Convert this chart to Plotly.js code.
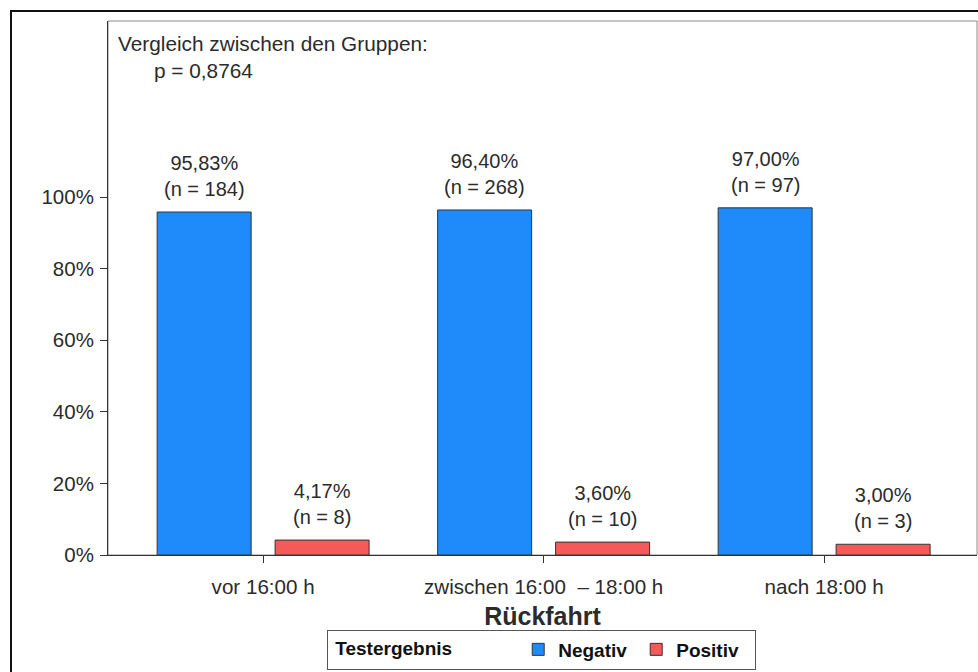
<!DOCTYPE html>
<html>
<head>
<meta charset="utf-8">
<script src="https://cdn.plot.ly/plotly-3.0.1.min.js"></script>
<style>
  html, body { margin: 0; padding: 0; background: #fff; }
  #wrap { position: relative; width: 978px; height: 672px; overflow: hidden; }
  #chart { position: absolute; left: 0; top: 0; width: 978px; height: 672px; }
  #frame { position: absolute; left: 10px; top: 10px; width: 1000px; height: 700px;
           border-left: 2px solid #111; border-top: 2px solid #111; pointer-events: none; }
</style>
</head>
<body>
<div id="wrap">
  <div id="chart"></div>
  <div id="frame"></div>
</div>
<script>
// ---- data ----
const categories = ['vor 16:00 h', 'zwischen 16:00  – 18:00 h', 'nach 18:00 h'];
const negativPct = [95.83, 96.40, 97.00];
const positivPct = [4.17, 3.60, 3.00];
const negativN = [184, 268, 97];
const positivN = [8, 10, 3];
const negativLabels = ['95,83%', '96,40%', '97,00%'];
const positivLabels = ['4,17%', '3,60%', '3,00%'];
const yTickVals = [0, 20, 40, 60, 80, 100];
const yTickText = ['0%', '20%', '40%', '60%', '80%', '100%'];
const pValueText = 'p = 0,8764';
const noteText = 'Vergleich zwischen den Gruppen:';

// ---- style ----
const FONT = 'Arial, "Liberation Sans", sans-serif';
const TXT = '#2b2b2b';
const BLUE = '#1f8bfb';
const RED = '#f45a5a';
const SLOT = 59; // half group slot offset in px for labels

const traces = [
  { type: 'bar', name: 'Negativ', x: categories, y: negativPct,
    marker: { color: BLUE, line: { color: '#333', width: 1 } }, hoverinfo: 'skip' },
  { type: 'bar', name: 'Positiv', x: categories, y: positivPct,
    marker: { color: RED, line: { color: '#333', width: 1 } }, hoverinfo: 'skip' }
];

const annotations = [];
categories.forEach((c, i) => {
  annotations.push({ x: c, y: negativPct[i], xref: 'x', yref: 'y', xshift: -SLOT, yshift: 10,
    yanchor: 'bottom', showarrow: false,
    text: negativLabels[i] + '<br>(n = ' + negativN[i] + ')',
    font: { family: FONT, size: 20, color: TXT } });
  annotations.push({ x: c, y: positivPct[i], xref: 'x', yref: 'y', xshift: SLOT, yshift: 10,
    yanchor: 'bottom', showarrow: false,
    text: positivLabels[i] + '<br>(n = ' + positivN[i] + ')',
    font: { family: FONT, size: 20, color: TXT } });
});
annotations.push({ x: 0.009, y: 0.957, xref: 'paper', yref: 'paper', xanchor: 'left', yanchor: 'middle',
  showarrow: false, text: noteText, font: { family: FONT, size: 20.8, color: TXT } });
annotations.push({ x: 0.0505, y: 0.908, xref: 'paper', yref: 'paper', xanchor: 'left', yanchor: 'middle',
  showarrow: false, text: pValueText, font: { family: FONT, size: 20.8, color: TXT } });

const layout = {
  width: 978, height: 672,
  margin: { l: 108, r: 1, t: 21, b: 117, autoexpand: false },
  paper_bgcolor: 'rgba(0,0,0,0)', plot_bgcolor: '#fff',
  barmode: 'group', bargap: 0.159, bargroupgap: 0.203,
  font: { family: FONT, size: 20, color: TXT },
  xaxis: {
    type: 'category', range: [-0.553, 2.545], automargin: false,
    showline: true, linecolor: '#333', linewidth: 1,
    ticks: 'outside', ticklen: 7, tickcolor: '#333', showgrid: false, zeroline: false,
    ticklabelstandoff: 6,
    tickfont: { family: FONT, size: 20.6, color: TXT },
    title: { text: '<b>Rückfahrt</b>', font: { family: FONT, size: 25, color: TXT }, standoff: 10 }
  },
  yaxis: {
    range: [0, 149.2], tickvals: yTickVals, ticktext: yTickText, automargin: false,
    showline: true, linecolor: '#333', linewidth: 1,
    ticks: 'outside', ticklen: 7, tickcolor: '#333', showgrid: false, zeroline: false,
    ticklabelstandoff: 2,
    tickfont: { family: FONT, size: 20.5, color: TXT }
  },
  shapes: [
    { type: 'rect', xref: 'paper', yref: 'paper', x0: 0, x1: 1, y0: 0, y1: 1,
      line: { color: '#8a8a8a', width: 1 }, layer: 'below' }
  ],
  showlegend: true,
  legend: {
    orientation: 'h', x: 0.252, xanchor: 'left', y: -0.177, yanchor: 'middle',
    bordercolor: '#555', borderwidth: 1, bgcolor: '#fff',
    entrywidth: 73, entrywidthmode: 'pixels',
    font: { family: FONT, size: 19, color: '#111', weight: 'bold' },
    title: { text: '\u00a0<b>Testergebnis</b>\u00a0\u00a0\u00a0\u00a0\u00a0\u00a0\u00a0\u00a0\u00a0\u00a0\u00a0',
             font: { family: FONT, size: 19, color: '#111' }, side: 'left' },
    itemclick: false, itemdoubleclick: false
  },
  annotations: annotations
};

Plotly.newPlot('chart', traces, layout, { displayModeBar: false, staticPlot: true });
</script>
</body>
</html>
